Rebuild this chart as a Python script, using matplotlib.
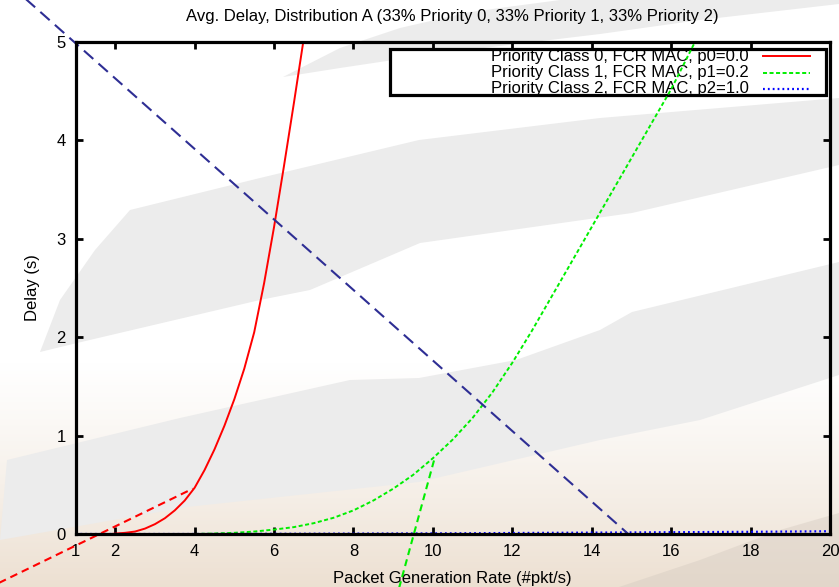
import numpy as np
import matplotlib
matplotlib.use("Agg")
import matplotlib.pyplot as plt
from matplotlib.patches import Polygon, Rectangle
from matplotlib.lines import Line2D

plt.rcParams['font.family'] = ['Liberation Sans', 'DejaVu Sans']
plt.rcParams['lines.scale_dashes'] = False

# ---------------- data ----------------
title = "Avg. Delay, Distribution A (33% Priority 0, 33% Priority 1, 33% Priority 2)"
xlabel = "Packet Generation Rate (#pkt/s)"
ylabel = "Delay (s)"
legend_labels = ["Priority Class 0, FCR MAC, p0=0.0",
                 "Priority Class 1, FCR MAC, p1=0.2",
                 "Priority Class 2, FCR MAC, p2=1.0"]
xticks = [1, 2, 4, 6, 8, 10, 12, 14, 16, 18, 20]
yticks = [0, 1, 2, 3, 4, 5]

p0_x = [1.9, 2.0, 2.25, 2.5, 2.75, 3.0, 3.25, 3.5, 3.75, 4.0, 4.25, 4.5, 4.75,
        5.0, 5.25, 5.5, 5.75, 6.0, 6.25, 6.5, 6.75]
p0_y = [0.0, 0.004, 0.012, 0.025, 0.055, 0.1, 0.16, 0.24, 0.34, 0.47, 0.65, 0.86, 1.1,
        1.37, 1.68, 2.05, 2.55, 3.12, 3.74, 4.38, 5.04]

p1_x = [4.0, 4.5, 5.0, 5.5, 6.0, 6.5, 7.0, 7.5, 8.0, 8.5, 9.0, 9.5, 10.0, 10.5,
        11.0, 11.5, 12.0, 12.5, 13.0, 13.5, 14.0, 14.5, 15.0, 15.5, 16.0, 16.6]
p1_y = [0.0, 0.005, 0.012, 0.025, 0.045, 0.07, 0.11, 0.165, 0.24, 0.34, 0.46, 0.6,
        0.77, 0.96, 1.18, 1.44, 1.74, 2.07, 2.42, 2.77, 3.12, 3.47, 3.82, 4.17, 4.52, 5.0]

p2_x = [1, 2, 3, 4, 5, 6, 7, 8, 9, 10, 11, 12, 13, 14, 15, 16, 17, 18, 19, 20]
p2_y = [0, 0, 0, 0, 0.001, 0.002, 0.003, 0.004, 0.005, 0.006, 0.008, 0.01,
        0.012, 0.014, 0.016, 0.018, 0.02, 0.022, 0.025, 0.028]

# extrapolated guide lines
red_ext_x = [-1.3, 3.95]
red_ext_y = [-0.57, 0.46]
green_ext_x = [9.1, 10.05]
green_ext_y = [-0.62, 0.78]
navy_x = [-0.4, 14.92]
navy_y = [5.49, 0.0]

W, H = 839, 587
fig = plt.figure(figsize=(W / 100, H / 100), dpi=100)
fig.patch.set_facecolor('white')

def P(pts):
    return [(x / W, 1 - y / H) for x, y in pts]

gray = '#ececec'
bands = [
    [(283, 77), (340, 48), (400, 28), (470, 12), (560, 0), (839, 0), (839, 4),
     (700, 20), (600, 34), (500, 46), (420, 56), (340, 68)],
    [(130, 210), (260, 178), (419, 140), (600, 118), (839, 98), (839, 165),
     (632, 213), (420, 243), (310, 290), (260, 300), (77, 343), (40, 352),
     (60, 300), (95, 250)],
    [(7, 460), (180, 418), (350, 380), (419, 378), (516, 360), (600, 330),
     (632, 312), (839, 262), (839, 375), (700, 420), (600, 440), (419, 482),
     (187, 507), (0, 540)],
]
for b in bands:
    fig.patches.append(Polygon(P(b), closed=True, transform=fig.transFigure,
                               facecolor=gray, edgecolor='none', zorder=0))
# beige gradient overlay near bottom
top_px = 360
grad = np.zeros((256, 2, 4))
tt = np.linspace(0, 1, 256)[:, None]
grad[..., 0] = 0.91
grad[..., 1] = 0.85
grad[..., 2] = 0.78
grad[..., 3] = np.clip(tt, 0, 1) ** 1.2 * 0.8
gax = fig.add_axes([0, 0, 1, 1 - top_px / H], zorder=-1)
gax.imshow(grad, aspect='auto', extent=[0, 1, 1, 0], interpolation='bilinear')
gax.set_axis_off()
gax.patch.set_alpha(0)
fig.patches.append(Polygon(P([(619, 587), (700, 560), (780, 530), (839, 513), (839, 587)]),
                           closed=True, transform=fig.transFigure,
                           facecolor='#d6ccc2', edgecolor='none', alpha=0.45, zorder=0))

ax = fig.add_axes([75.5 / W, 1 - 534 / H, (830 - 75.5) / W, (534 - 42) / H], zorder=1)
ax.patch.set_alpha(0)
ax.set_xlim(1, 20)
ax.set_ylim(0, 5)

ax.plot(p0_x, p0_y, color='#ff0000', lw=1.4, zorder=3, clip_on=True)
ax.plot(p1_x, p1_y, color='#00ee00', lw=1.4, ls=(0, (2.9, 1.8)), zorder=3, clip_on=True)
ax.plot(p2_x, p2_y, color='#0000ff', lw=1.6, ls=(0, (1.3, 2.2)), zorder=3, clip_on=False)
ax.plot(red_ext_x, red_ext_y, color='#ff0000', lw=1.5, ls=(0, (5.5, 3.6)), zorder=3, clip_on=False)
ax.plot(green_ext_x, green_ext_y, color='#00ee00', lw=1.5, ls=(0, (5.0, 3.2)), zorder=3, clip_on=False)
ax.plot(navy_x, navy_y, color='#2e2e94', lw=1.5, ls=(0, (9.0, 5.0)), zorder=3, clip_on=False)

for s in ax.spines.values():
    s.set_linewidth(2.3)
    s.set_zorder(4)
ax.set_xticks(xticks)
ax.set_yticks(yticks)
ax.set_xticklabels([str(v) for v in xticks])
ax.set_yticklabels([str(v) for v in yticks])
ax.tick_params(direction='in', length=5, width=2, top=True, right=True,
               labelsize=12, pad=7, colors='black')

ax.set_title(title, fontsize=12, pad=15)
ax.set_xlabel(xlabel, fontsize=12, labelpad=9)
ax.set_ylabel(ylabel, fontsize=12, labelpad=12)

# legend box (gnuplot style, right aligned text, sample on right)
lx0 = (390 - 75.5) / 754.5
lx1 = (826 - 75.5) / 754.5
ly0 = (534 - 95) / 492
ly1 = (534 - 49) / 492
ax.add_patch(Rectangle((lx0, ly0), lx1 - lx0, ly1 - ly0, transform=ax.transAxes,
                       facecolor='white', edgecolor='black', lw=2.3, zorder=2.5,
                       clip_on=False))
rows = [(534 - 56) / 492, (534 - 72.5) / 492, (534 - 89) / 492]
styles = [dict(color='#ff0000', lw=1.4, ls='-'),
          dict(color='#00ee00', lw=1.4, ls=(0, (2.9, 1.8))),
          dict(color='#0000ff', lw=1.6, ls=(0, (1.3, 2.2)))]
tx = (749 - 75.5) / 754.5
sx0 = (763 - 75.5) / 754.5
sx1 = (810 - 75.5) / 754.5
for lab, yy, st in zip(legend_labels, rows, styles):
    ax.text(tx, yy, lab, transform=ax.transAxes, ha='right', va='center',
            fontsize=12, zorder=2.6)
    ax.add_line(Line2D([sx0, sx1], [yy, yy], transform=ax.transAxes, zorder=2.6,
                       clip_on=False, **st))

fig.savefig('out.png', dpi=100)
